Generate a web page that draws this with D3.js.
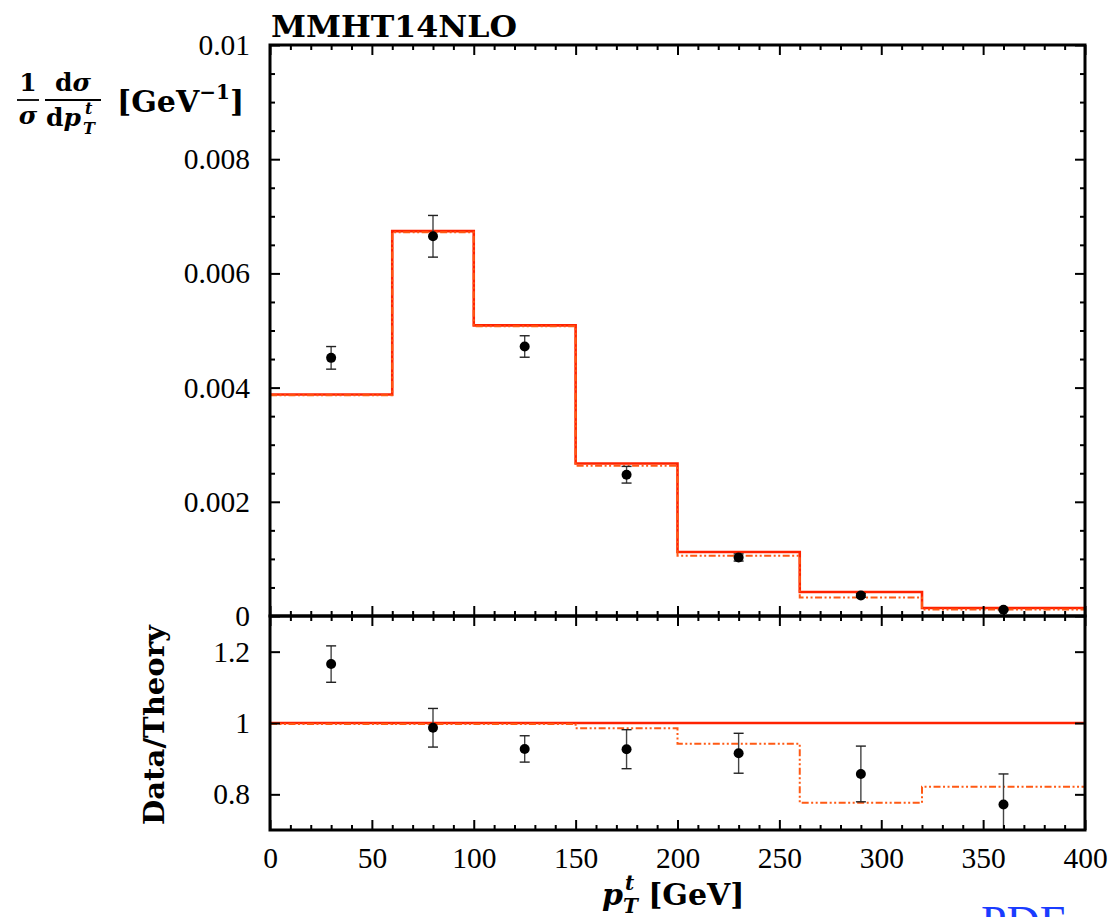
<!DOCTYPE html>
<html>
<head>
<meta charset="utf-8">
<script src="https://cdn.jsdelivr.net/npm/d3@7/dist/d3.min.js"></script>
<style>
  html, body { margin: 0; padding: 0; background: #fff; }
  svg { display: block; }
  text { font-family: "Liberation Serif", "Times New Roman", serif; fill: #000; }
  .bold { font-family: "DejaVu Serif", serif; font-weight: bold; }
</style>
</head>
<body>
<svg id="chart" width="1116" height="917"></svg>
<script>
// Top-quark transverse momentum: normalised cross section and ratio to theory.
const binEdges   = [0, 60, 100, 150, 200, 260, 320, 400];
const binCentres = [30, 80, 125, 175, 230, 290, 360];

// Theory predictions per bin (GeV^-1): nominal (solid) and alternative (dash-dot)
const theoryNominal = [0.00388, 0.00674, 0.00509, 0.00267, 0.00112, 0.00042, 0.00014];
const theoryAlt     = [0.003868, 0.00672, 0.005075, 0.00263, 0.001055, 0.000326, 0.000115];

// Measured values and uncertainties (GeV^-1)
const dataValues = [0.004521, 0.00665, 0.00472, 0.002474, 0.001025, 0.00036, 0.000108];
const dataErrors = [0.000198, 0.000365, 0.000188, 0.000146, 0.0000627, 0.0000328, 0.000012];

// Axis ticks and their labels
const xTicks        = [0, 50, 100, 150, 200, 250, 300, 350, 400];
const xTickLabels   = ["0", "50", "100", "150", "200", "250", "300", "350", "400"];
const topTicks      = [0, 0.002, 0.004, 0.006, 0.008, 0.01];
const topTickLabels = ["0", "0.002", "0.004", "0.006", "0.008", "0.01"];
const ratioTicks      = [0.8, 1, 1.2];
const ratioTickLabels = ["0.8", "1", "1.2"];

const title = "MMHT14NLO";

// ---- layout ----
const left = 270, right = 1085;
const topY0 = 45, topY1 = 616, ratY1 = 830;

const svg = d3.select("#chart");

const x = d3.scaleLinear().domain([0, 400]).range([left, right]);
const yTop = d3.scaleLinear().domain([0, 0.01]).range([topY1, topY0]);
const yRat = d3.scaleLinear().domain([0.7, 1.3]).range([ratY1, topY1]);

const red = "#ff2200";
const orange = "#ff5a14";
const fontSize = 29.5;

// clip regions for each panel
const defs = svg.append("defs");
defs.append("clipPath").attr("id", "clipTop").append("rect")
  .attr("x", left).attr("y", topY0).attr("width", right - left).attr("height", topY1 - topY0);
defs.append("clipPath").attr("id", "clipRat").append("rect")
  .attr("x", left).attr("y", topY1).attr("width", right - left).attr("height", ratY1 - topY1);

function stepPoints(vals) {
  const pts = vals.map((v, i) => [binEdges[i], v]);
  pts.push([binEdges[binEdges.length - 1], vals[vals.length - 1]]);
  return pts;
}

function drawPanel(g, yScale, nominal, alt, dVals, dErrs) {
  const line = d3.line().x(d => x(d[0])).y(d => yScale(d[1])).curve(d3.curveStepAfter);
  g.append("path").attr("d", line(stepPoints(nominal)))
    .attr("fill", "none").attr("stroke", red).attr("stroke-width", 2.6);
  g.append("path").attr("d", line(stepPoints(alt)))
    .attr("fill", "none").attr("stroke", orange).attr("stroke-width", 2)
    .attr("stroke-dasharray", "7,2.5,2,2.5,2,2.5");

  const pts = g.selectAll("g.pt").data(binCentres.map((c, i) => ({ c, v: dVals[i], e: dErrs[i] })))
    .join("g").attr("class", "pt");
  pts.append("line")
    .attr("x1", d => x(d.c)).attr("x2", d => x(d.c))
    .attr("y1", d => yScale(d.v - d.e)).attr("y2", d => yScale(d.v + d.e))
    .attr("stroke", "#444").attr("stroke-width", 1.4);
  [-1, 1].forEach(s => {
    pts.append("line")
      .attr("x1", d => x(d.c) - 5).attr("x2", d => x(d.c) + 5)
      .attr("y1", d => yScale(d.v + s * d.e)).attr("y2", d => yScale(d.v + s * d.e))
      .attr("stroke", "#222").attr("stroke-width", 1.4);
  });
  pts.append("circle")
    .attr("cx", d => x(d.c)).attr("cy", d => yScale(d.v)).attr("r", 5)
    .attr("fill", "#000");
}

// top panel: cross section
const gTop = svg.append("g").attr("clip-path", "url(#clipTop)");
drawPanel(gTop, yTop, theoryNominal, theoryAlt, dataValues, dataErrors);

// ratio panel: data / nominal theory
const gRat = svg.append("g").attr("clip-path", "url(#clipRat)");
drawPanel(gRat, yRat,
  theoryNominal.map(() => 1),
  theoryAlt.map((v, i) => v / theoryNominal[i]),
  dataValues.map((v, i) => v / theoryNominal[i]),
  dataErrors.map((e, i) => e / theoryNominal[i]));

// ---- axes ----
function styleAxis(sel) {
  sel.select(".domain").remove();
  sel.selectAll(".tick line").attr("stroke", "#000").attr("stroke-width", 2);
  sel.selectAll(".tick text").attr("font-size", fontSize).attr("font-family", "Liberation Serif");
}

const xMinor = d3.range(0, 401, 10).filter(v => v % 50 !== 0);

function xAxes(yPos, withLabels, isTop) {
  const mk = isTop ? d3.axisTop : d3.axisBottom;
  svg.append("g").attr("transform", `translate(0,${yPos})`)
    .call(mk(x).tickValues(xTicks).tickSize(-10).tickPadding(17)
      .tickFormat((d, i) => withLabels ? xTickLabels[i] : ""))
    .call(styleAxis);
  svg.append("g").attr("transform", `translate(0,${yPos})`)
    .call(mk(x).tickValues(xMinor).tickSize(-5).tickFormat(""))
    .call(styleAxis);
}
xAxes(topY0, false, true);
xAxes(topY1, false, false);
xAxes(topY1, false, true);
xAxes(ratY1, true, false);

const topMinor = d3.range(0, 0.01001, 0.0005).filter((v, i) => i % 4 !== 0);
[[d3.axisLeft, left, true], [d3.axisRight, right, false]].forEach(([mk, xp, lab]) => {
  svg.append("g").attr("transform", `translate(${xp},0)`)
    .call(mk(yTop).tickValues(topTicks).tickSize(-10).tickPadding(20)
      .tickFormat((d, i) => lab ? topTickLabels[i] : ""))
    .call(styleAxis);
  svg.append("g").attr("transform", `translate(${xp},0)`)
    .call(mk(yTop).tickValues(topMinor).tickSize(-5).tickFormat(""))
    .call(styleAxis);
  svg.append("g").attr("transform", `translate(${xp},0)`)
    .call(mk(yRat).tickValues(ratioTicks).tickSize(-10).tickPadding(20)
      .tickFormat((d, i) => lab ? ratioTickLabels[i] : ""))
    .call(styleAxis);
});

// panel frames
svg.append("rect").attr("x", left).attr("y", topY0).attr("width", right - left).attr("height", topY1 - topY0)
  .attr("fill", "none").attr("stroke", "#000").attr("stroke-width", 3);
svg.append("rect").attr("x", left).attr("y", topY1).attr("width", right - left).attr("height", ratY1 - topY1)
  .attr("fill", "none").attr("stroke", "#000").attr("stroke-width", 3);

// ---- titles and labels ----
svg.append("text").attr("class", "bold").attr("x", left + 1).attr("y", 37)
  .attr("font-size", 29)
  .attr("textLength", 246).attr("lengthAdjust", "spacingAndGlyphs")
  .text(title);

// y label of the cross-section panel: (1/σ) dσ/dp_T^t [GeV^-1]
const yl = svg.append("g").attr("class", "bold");
yl.append("text").attr("class", "bold").attr("x", 28).attr("y", 91).attr("text-anchor", "middle").attr("font-size", 25).text("1");
yl.append("line").attr("x1", 17).attr("x2", 39).attr("y1", 100).attr("y2", 100).attr("stroke", "#000").attr("stroke-width", 1.8);
yl.append("text").attr("class", "bold").attr("x", 28).attr("y", 124).attr("text-anchor", "middle").attr("font-size", 25)
  .attr("font-style", "italic").text("σ");
const num = yl.append("text").attr("class", "bold").attr("x", 73).attr("y", 91).attr("text-anchor", "middle").attr("font-size", 25);
num.append("tspan").text("d");
num.append("tspan").attr("font-style", "italic").text("σ");
yl.append("line").attr("x1", 45).attr("x2", 101).attr("y1", 100).attr("y2", 100).attr("stroke", "#000").attr("stroke-width", 1.8);
const den = yl.append("text").attr("class", "bold").attr("x", 46).attr("y", 126).attr("font-size", 25);
den.append("tspan").text("d");
den.append("tspan").attr("font-style", "italic").text("p");
yl.append("text").attr("class", "bold").attr("x", 83).attr("y", 134).attr("font-size", 16)
  .attr("font-style", "italic").text("T");
yl.append("text").attr("class", "bold").attr("x", 85).attr("y", 114).attr("font-size", 16)
  .attr("font-style", "italic").text("t");
const unit = yl.append("text").attr("class", "bold").attr("x", 117).attr("y", 112).attr("font-size", 30);
unit.append("tspan").text("[GeV");
unit.append("tspan").attr("font-size", 20).attr("dy", -13).text("−1");
unit.append("tspan").attr("dy", 13).text("]");

// y label of the ratio panel
svg.append("text").attr("class", "bold")
  .attr("transform", `translate(164,${(topY1 + ratY1) / 2 + 2}) rotate(-90)`)
  .attr("text-anchor", "middle").attr("font-size", 28)
  .attr("textLength", 200).attr("lengthAdjust", "spacingAndGlyphs")
  .text("Data/Theory");

// x label: p_T^t [GeV]
const xl = svg.append("text").attr("class", "bold").attr("x", 602).attr("y", 905).attr("font-size", 30);
xl.append("tspan").attr("font-style", "italic").text("p");
xl.append("tspan").attr("font-style", "italic").attr("font-size", 20).attr("dy", 8).text("T");
xl.append("tspan").attr("font-style", "italic").attr("font-size", 20).attr("dx", -13).attr("dy", -23).text("t");
xl.append("tspan").attr("dx", 14).attr("dy", 15).text("[GeV]");

// partially visible link text at the bottom edge
svg.append("text").attr("x", 981).attr("y", 938).attr("font-size", 46)
  .style("fill", "#1a3cff").text("PDF");
</script>
</body>
</html>
